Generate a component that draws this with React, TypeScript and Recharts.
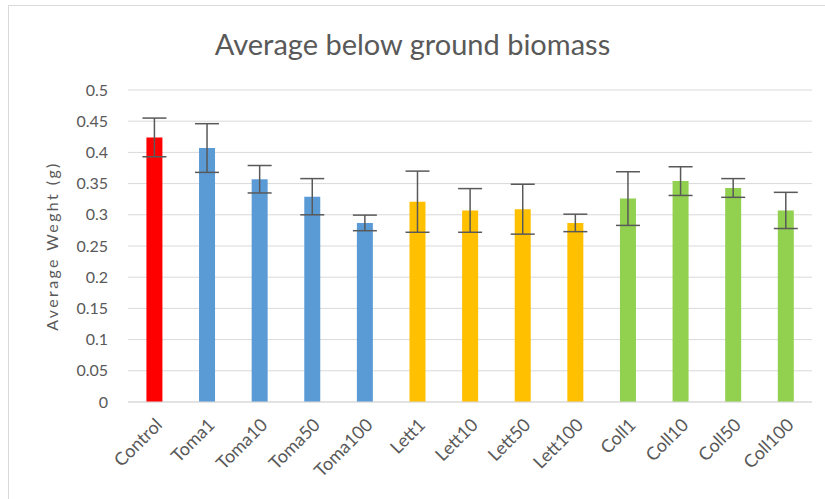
import React from "react";
import {
  BarChart,
  Bar,
  Cell,
  XAxis,
  YAxis,
  CartesianGrid,
  ErrorBar,
  Label,
} from "recharts";

const categories = [
  "Control",
  "Toma1",
  "Toma10",
  "Toma50",
  "Toma100",
  "Lett1",
  "Lett10",
  "Lett50",
  "Lett100",
  "Coll1",
  "Coll10",
  "Coll50",
  "Coll100",
];

const weights = [
  0.424, 0.407, 0.357, 0.329, 0.287, 0.321, 0.307, 0.309, 0.287, 0.326, 0.354,
  0.343, 0.307,
];

const errors = [
  0.031, 0.039, 0.022, 0.029, 0.0125, 0.049, 0.035, 0.04, 0.014, 0.043, 0.023,
  0.015, 0.029,
];

const barColors = [
  "#FF0000",
  "#5B9BD5",
  "#5B9BD5",
  "#5B9BD5",
  "#5B9BD5",
  "#FFC000",
  "#FFC000",
  "#FFC000",
  "#FFC000",
  "#92D050",
  "#92D050",
  "#92D050",
  "#92D050",
];

const yTicks = [0, 0.05, 0.1, 0.15, 0.2, 0.25, 0.3, 0.35, 0.4, 0.45, 0.5];

const data = categories.map((name, i) => ({
  name,
  weight: weights[i],
  err: errors[i],
}));

const font = "Lato, 'Open Sans', sans-serif";
const textColor = "#595959";

function XTick(props: any) {
  const { x, y, payload } = props;
  return (
    <g transform={`translate(${x + 2},${y + 9})`}>
      <text
        textAnchor="end"
        transform="rotate(-45)"
        fontSize={18}
        fill={textColor}
        fontFamily={font}
        dy={10}
      >
        {payload.value}
      </text>
    </g>
  );
}

export default function App() {
  return (
    <div
      style={{
        position: "absolute",
        left: 0,
        top: 0,
        width: 825,
        height: 499,
        background: "#fff",
      }}
    >
      <div
        style={{
          position: "absolute",
          left: 8,
          top: 5,
          right: 0,
          bottom: 0,
          borderTop: "1px solid #D9D9D9",
          borderLeft: "1px solid #D9D9D9",
        }}
      />
      <div
        style={{
          position: "absolute",
          top: 27,
          width: 825,
          textAlign: "center",
          fontFamily: font,
          fontSize: 29,
          color: textColor,
          lineHeight: "34px",
        }}
      >
        Average below ground biomass
      </div>
      <div style={{ position: "absolute", left: 0, top: 0 }}>
        <BarChart
          width={825}
          height={499}
          data={data}
          margin={{ top: 90, right: 13, bottom: 7, left: 0 }}
          barCategoryGap="35%"
        >
          <CartesianGrid vertical={false} stroke="#D9D9D9" strokeWidth={1} />
          <XAxis
            dataKey="name"
            interval={0}
            height={90}
            tickLine={false}
            axisLine={{ stroke: "#D9D9D9" }}
            tick={<XTick />}
          />
          <YAxis
            width={128}
            domain={[0, 0.5]}
            ticks={yTicks}
            tickLine={false}
            axisLine={false}
            tickMargin={14}
            tick={{ fontSize: 16, fill: textColor, fontFamily: font }}
          >
            <Label
              value="Average Weght (g)"
              angle={-90}
              position="insideLeft"
              offset={52}
              style={{
                textAnchor: "middle",
                fontSize: 16,
                letterSpacing: 2.4,
                fill: textColor,
                fontFamily: font,
              }}
            />
          </YAxis>
          <Bar dataKey="weight" isAnimationActive={false}>
            {data.map((_, i) => (
              <Cell key={i} fill={barColors[i]} />
            ))}
            <ErrorBar
              dataKey="err"
              width={12}
              stroke="#595959"
              strokeWidth={1.5}
              direction="y"
            />
          </Bar>
        </BarChart>
      </div>
    </div>
  );
}
